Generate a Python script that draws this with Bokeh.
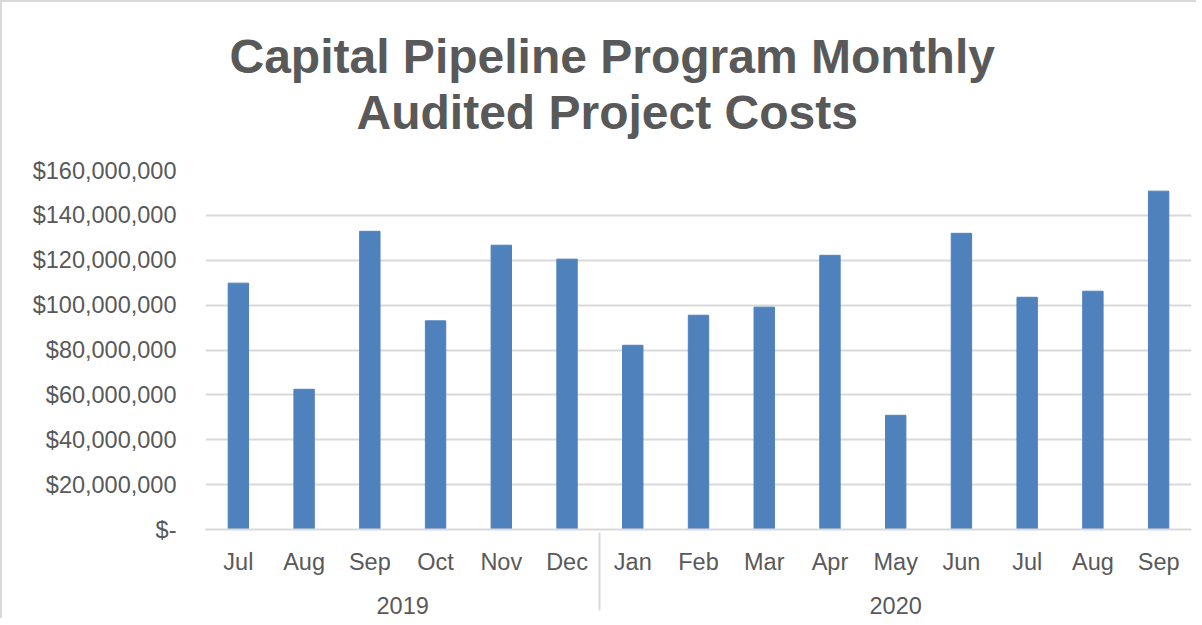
from bokeh.plotting import figure
from bokeh.models import (FactorRange, Range1d, FixedTicker, CustomJSTickFormatter,
                          ColumnDataSource, Title)
from bokeh.embed import file_html
from bokeh.resources import INLINE

# ---- data ----
years = ["2019"] * 6 + ["2020"] * 9
months = ["Jul", "Aug", "Sep", "Oct", "Nov", "Dec",
          "Jan", "Feb", "Mar", "Apr", "May", "Jun", "Jul", "Aug", "Sep"]
costs = [109.8e6, 62.5e6, 132.9e6, 93.0e6, 126.7e6, 120.5e6,
         82.1e6, 95.5e6, 99.1e6, 122.2e6, 50.9e6, 132.0e6, 103.5e6, 106.2e6, 150.8e6]
y_ticks = [0, 20e6, 40e6, 60e6, 80e6, 100e6, 120e6, 140e6, 160e6]
title_line1 = "Capital Pipeline Program Monthly"
title_line2 = "Audited  Project Costs"

TXT = "#595959"
GRID = "#d9d9d9"
FONT = "Liberation Sans"
LBL = "23.5px"

factors = list(zip(years, months))
src = ColumnDataSource(dict(x=factors, top=costs))

x_range = FactorRange(*factors, range_padding=0, factor_padding=0, group_padding=0)
p = figure(x_range=x_range, y_range=Range1d(0, 160e6), title=None,
           width=1196, height=618, output_backend="svg", toolbar_location=None,
           min_border_left=203, min_border_right=7, min_border_top=168, min_border_bottom=91)

p.vbar(x="x", top="top", width=0.31, source=src, color="#4f81bd")

# y axis
p.yaxis.ticker = FixedTicker(ticks=y_ticks)
p.yaxis.formatter = CustomJSTickFormatter(code="""
    if (tick == 0) { return "$-"; }
    return "$" + Math.round(tick).toLocaleString('en-US');
""")
p.yaxis.axis_line_color = None
p.yaxis.major_tick_line_color = None
p.yaxis.minor_tick_line_color = None
p.yaxis.major_tick_out = 0
p.yaxis.major_label_standoff = 29
p.yaxis.major_label_text_font = FONT
p.yaxis.major_label_text_font_size = LBL
p.yaxis.major_label_text_color = TXT

# x axis
xa = p.xaxis[0]
xa.axis_line_color = GRID
xa.axis_line_width = 2
xa.major_tick_line_color = None
xa.minor_tick_line_color = None
xa.major_tick_out = 0
xa.major_label_standoff = 19
xa.major_label_text_font = FONT
xa.major_label_text_font_size = LBL
xa.major_label_text_color = TXT
xa.group_text_font = FONT
xa.group_text_font_size = LBL
xa.group_text_font_style = "normal"
xa.group_text_color = TXT
xa.separator_line_color = GRID
xa.separator_line_width = 2

p.ygrid.grid_line_color = GRID
p.ygrid.grid_line_width = 2
p.xgrid.grid_line_color = None
p.outline_line_color = None

# two-line title: spacer panel next to the frame, then line 2, then line 1
tstyle = dict(text_font=FONT, text_font_size="48px", text_font_style="bold", text_color=TXT)
spacer = Title(text=" ", align="left", offset=0, standoff=-23, **tstyle)
t2 = Title(text=title_line2, align="left", offset=151, standoff=0, **tstyle)
t1 = Title(text=title_line1, align="left", offset=24, standoff=1, **tstyle)
p.add_layout(spacer, "above")
p.add_layout(t2, "above")
p.add_layout(t1, "above")

p.styles = {"border-left": "2px solid #d9d9d9", "border-top": "2px solid #d9d9d9"}

open("out.html", "w").write(file_html(p, INLINE))
